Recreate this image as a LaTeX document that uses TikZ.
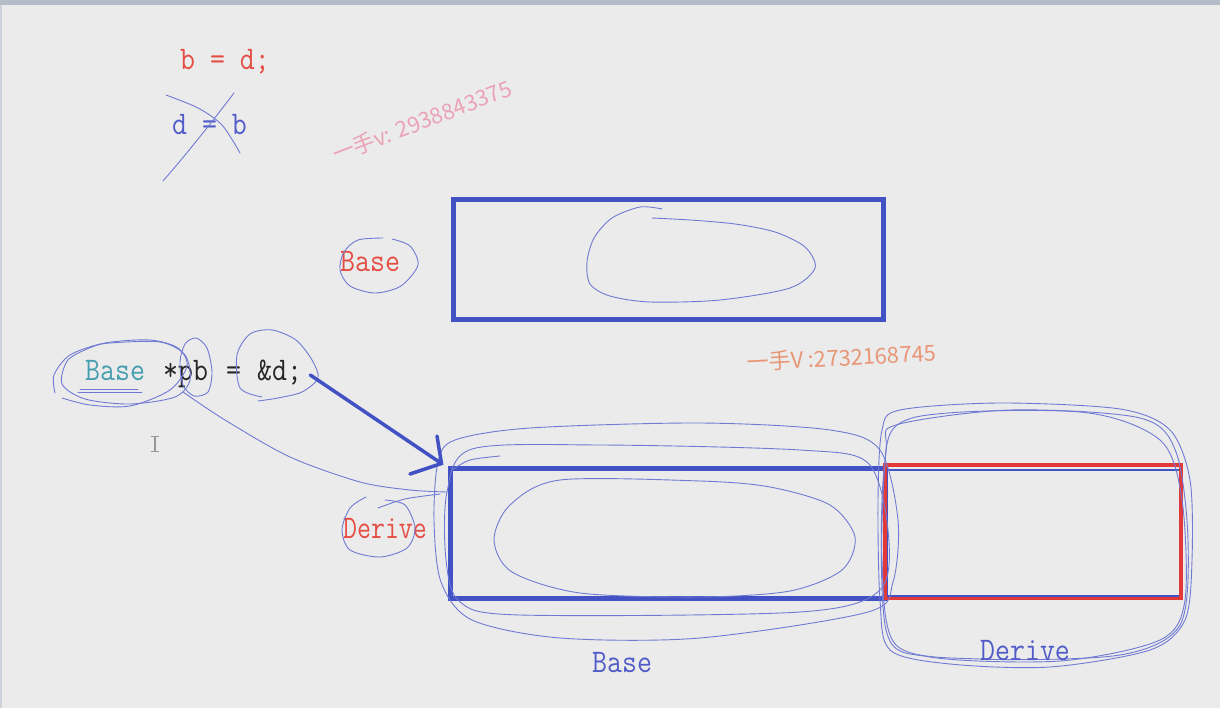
\documentclass[tikz,border=0pt]{standalone}
\usepackage{fontspec}
\newfontfamily\cjk{Noto Sans CJK SC}
\newcommand\sq[1]{\scalebox{0.88}[1]{#1}}
\definecolor{bg}{RGB}{235,235,236}
\definecolor{band}{RGB}{180,188,200}
\definecolor{edge}{RGB}{205,210,218}
\definecolor{hand}{RGB}{112,122,210}
\definecolor{boxblue}{RGB}{66,82,196}
\definecolor{txtred}{RGB}{228,78,68}
\definecolor{rectred}{RGB}{226,56,56}
\definecolor{txtblue}{RGB}{82,92,200}
\definecolor{txtteal}{RGB}{70,158,175}
\definecolor{wmpink}{RGB}{236,162,182}
\definecolor{wmorange}{RGB}{232,150,118}
\definecolor{cursor}{RGB}{150,150,150}
\tikzset{
  lbl/.style={inner sep=0pt, anchor=base west, font=\ttfamily\fontsize{33}{36}\selectfont},
  wm/.style={inner sep=0pt, anchor=base west, font=\cjk\fontsize{22}{24}\selectfont},
  freehand/.style={draw=hand, line width=0.9pt, line join=round, line cap=round},
  thickbox/.style={draw=boxblue, line width=5pt, inner sep=0pt, fill=none},
  redbox/.style={draw=rectred, line width=4pt, inner sep=0pt},
  bigarrow/.style={draw=boxblue, line width=3.5pt, line cap=round},
}
\begin{document}
\begin{tikzpicture}[x=1pt,y=-1pt]
\useasboundingbox (0,0) rectangle (1220,708);
\fill[bg] (0,0) rectangle (1220,708);
\fill[band] (0,0) rectangle (1220,5);
\fill[edge] (0,5) rectangle (2,708);

% ---- top-left texts ----
\node[lbl, text=txtred] (bd) at (180,70) {\sq{b = d;}};
\node[lbl, text=txtblue] (db) at (172,135) {\sq{d = b}};
\draw[freehand] (163,181) .. controls (190,150) and (215,118) .. (234,93);
\draw[freehand] plot[smooth] coordinates {(166,95) (198,108) (222,125) (240,153)};

% ---- watermarks ----
\node[wm, text=wmpink, rotate=21] (wm1) at (336,163) {一手v: 2938843375};
\node[wm, text=wmorange, rotate=3] (wm2) at (747,371) {一手V :2732168745};

% ---- upper Base box ----
\node[lbl, text=txtred] (baseA) at (340,272) {\sq{Base}};
\draw[freehand] plot[smooth] coordinates {(383,238) (358,240) (344,252) (340,270) (350,286) (375,293) (401,286) (418,265) (410,246) (392,239)};
\node[thickbox, minimum width=430pt, minimum height=120pt] (ubox) at (668,260) {};
\draw[freehand] plot[smooth] coordinates {(662,209) (640,207) (612,218) (594,238) (587,262) (590,284) (610,296) (650,302) (720,300) (790,288) (815,268) (805,247) (775,232) (735,224) (690,220) (652,218)};

% ---- code line ----
\node[lbl, text=txtteal] (cbase) at (85,380) {\sq{Base}};
\node[lbl, text=black!85] (cpb) at (163,380) {\sq{*pb}};
\node[lbl, text=black!85] (ceq) at (226,380) {\sq{=}};
\node[lbl, text=black!85] (camp) at (257,380) {\sq{\&d;}};
\draw[freehand] plot[smooth cycle] coordinates {(110,343) (160,342) (185,355) (190,380) (175,397) (130,404) (85,399) (62,384) (68,360) (92,347)};
\draw[freehand] plot[smooth] coordinates {(55,393) (54,375) (70,355) (105,343) (150,340) (178,348) (187,366) (170,390) (130,406) (90,405) (62,398)};
\draw[freehand] (78,392) -- (142,392);
\draw[freehand] (80,389) -- (138,389);
\draw[freehand] plot[smooth cycle] coordinates {(196,338) (207,348) (212,372) (208,392) (194,396) (183,385) (180,362) (185,344)};
\draw[freehand] plot[smooth] coordinates {(262,397) (240,388) (237,355) (250,334) (272,330) (296,340) (312,360) (318,378) (302,392) (278,398) (258,401)};
\draw[freehand] plot[smooth] coordinates {(183,392) (225,420) (290,457) (360,482) (410,490) (447,492)};

% cursor I-beam
\draw[cursor, line width=1.2pt] (155,436) -- (155,451);
\draw[cursor, line width=1pt] (151,436) -- (159,436) (151,451) -- (159,451);

% ---- lower boxes ----
\node[lbl, text=txtred] (deriveA) at (343,538) {\scalebox{0.82}[1]{Derive}};
\draw[freehand] plot[smooth] coordinates {(366,497) (350,508) (342,530) (350,550) (380,557) (407,548) (415,528) (405,505) (385,500)};
\draw[freehand] plot[smooth] coordinates {(378,508) (405,499) (440,494)};

\node[thickbox, minimum width=435pt, minimum height=130pt] (lbox) at (667.5,533) {};
\node[redbox, minimum width=296pt, minimum height=133pt] (rbox) at (1033,531.5) {};
\draw[boxblue, line width=2pt] (887,469.5) -- (1179,469.5) (887,595.5) -- (1179,595.5);

% inner blob lower
\draw[freehand] plot[smooth cycle] coordinates {(560,480) (700,481) (770,487) (830,505) (855,537) (842,570) (790,591) (700,597) (580,593) (512,572) (494,540) (510,505)};
% loops around lower-left box
\draw[freehand] plot[smooth cycle] coordinates {(455,440) (530,428) (700,423) (830,430) (880,450) (898,520) (893,582) (868,612) (700,638) (560,638) (472,620) (441,582) (434,520) (438,462)};
\draw[freehand] plot[smooth cycle] coordinates {(472,449) (600,445) (800,450) (868,463) (888,530) (880,590) (800,612) (520,615) (460,602) (446,560) (447,492)};
\draw[freehand] plot[smooth] coordinates {(452,470) (470,460) (500,456)};
% loops around right box
\draw[freehand] plot[smooth cycle] coordinates {(900,410) (1000,403) (1120,409) (1170,430) (1190,480) (1192,560) (1185,620) (1150,650) (1050,667) (950,664) (890,650) (880,600) (878,500) (882,430)};
\draw[freehand] plot[smooth cycle] coordinates {(912,418) (1080,412) (1160,440) (1182,500) (1185,600) (1160,640) (1060,661) (930,657) (886,630) (884,470)};
\draw[freehand] plot[smooth cycle] coordinates {(896,425) (1010,410) (1140,418) (1176,452) (1188,540) (1180,625) (1120,655) (980,659) (896,645) (882,560) (886,450)};

\node[lbl, text=txtblue] (baseB) at (592,672) {\sq{Base}};
\node[lbl, text=txtblue] (deriveB) at (980,660) {\sq{Derive}};

% ---- thick arrow from &d; to the object ----
\coordinate (tip) at ([xshift=-6pt,yshift=2pt]lbox.north west);
\coordinate (arm1) at (437,436);
\coordinate (arm2) at (410,474);
\draw[bigarrow] ([xshift=8pt,yshift=-3pt]camp.east) -- (tip);
\draw[bigarrow] (arm1) -- (tip) -- (arm2);
\end{tikzpicture}
\end{document}
